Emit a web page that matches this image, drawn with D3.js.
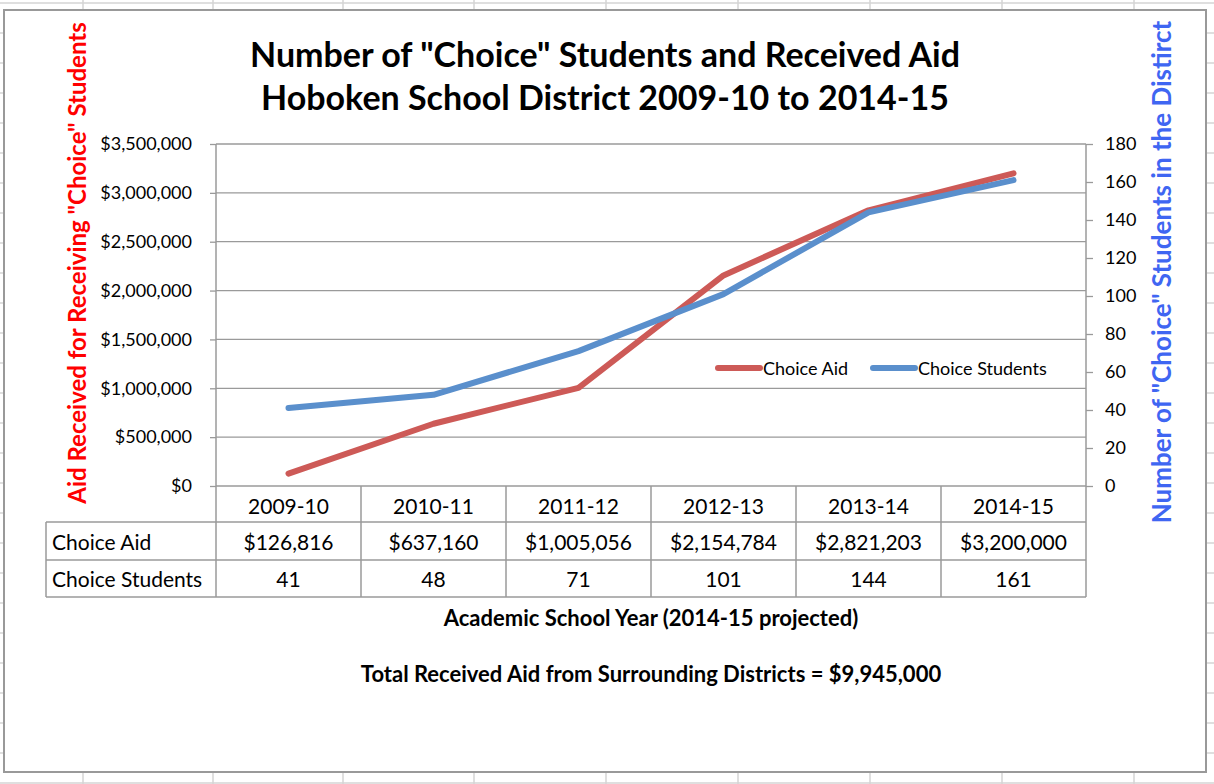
<!DOCTYPE html>
<html>
<head>
<meta charset="utf-8">
<script src="https://cdn.jsdelivr.net/npm/d3@7/dist/d3.min.js"></script>
<style>
  html, body { margin: 0; padding: 0; background: #fff; }
  svg { display: block; }
  text { font-family: Lato, "Open Sans", "DejaVu Sans", sans-serif; }
</style>
</head>
<body>
<svg id="chart" width="1214" height="784"></svg>
<script>
const categories = ["2009-10", "2010-11", "2011-12", "2012-13", "2013-14", "2014-15"];
const choiceAid = [126816, 637160, 1005056, 2154784, 2821203, 3200000];
const choiceStudents = [41, 48, 71, 101, 144, 161];
const aidTicks = [0, 500000, 1000000, 1500000, 2000000, 2500000, 3000000, 3500000];
const studentTicks = [0, 20, 40, 60, 80, 100, 120, 140, 160, 180];
const seriesNames = ["Choice Aid", "Choice Students"];
const titleLines = ['Number of "Choice" Students and Received Aid', 'Hoboken School District 2009-10 to 2014-15'];
const leftTitle = 'Aid Received for Receiving "Choice" Students';
const rightTitle = 'Number of "Choice" Students in the Distirct';
const xTitle = "Academic School Year (2014-15 projected)";
const footNote = "Total Received Aid from Surrounding Districts = $9,945,000";

const W = 1214, H = 784;
const svg = d3.select("#chart");
const RED = "#CD5A57", BLUE = "#5A8FCC", GRID = "#9a9a9a";

// spreadsheet background grid
const sheet = svg.append("g");
const colXs = [83, 213, 343, 474, 606, 738, 870, 1002, 1134];
colXs.forEach(x => sheet.append("line").attr("x1", x).attr("x2", x).attr("y1", 0).attr("y2", H)
  .attr("stroke", "#d4d4d4").attr("stroke-width", 1.5));
d3.range(3, H, 30).forEach(y => sheet.append("line").attr("x1", 0).attr("x2", W).attr("y1", y).attr("y2", y)
  .attr("stroke", "#d4d4d4").attr("stroke-width", 1.5));

// chart frame
svg.append("rect").attr("x", 4).attr("y", 10).attr("width", 1202).attr("height", 762)
  .attr("fill", "#fff").attr("stroke", "#999").attr("stroke-width", 2);

const plot = {left: 216, right: 1086, top: 144, bottom: 486};
const x = d3.scaleBand().domain(categories).range([plot.left, plot.right]);
const yL = d3.scaleLinear().domain([0, 3500000]).range([plot.bottom, plot.top]);
const yR = d3.scaleLinear().domain([0, 180]).range([plot.bottom, plot.top]);

// gridlines
svg.append("g").selectAll("line").data(aidTicks).join("line")
  .attr("x1", plot.left).attr("x2", plot.right)
  .attr("y1", d => yL(d)).attr("y2", d => yL(d))
  .attr("stroke", GRID).attr("stroke-width", 1.3);

// left axis
const gL = svg.append("g").attr("transform", `translate(${plot.left},0)`)
  .call(d3.axisLeft(yL).tickValues(aidTicks).tickSize(6).tickPadding(18)
    .tickFormat(d => "$" + d3.format(",")(d)));
gL.select(".domain").attr("stroke", GRID).attr("stroke-width", 1.5).attr("d", `M0,${plot.top}V${plot.bottom}`);
gL.selectAll(".tick line").attr("stroke", GRID).attr("stroke-width", 1.3);
gL.selectAll(".tick text").attr("font-size", 18).attr("fill", "#000")
  .style("font-family", "Lato, sans-serif");

// right axis
const gR = svg.append("g").attr("transform", `translate(${plot.right},0)`)
  .call(d3.axisRight(yR).tickValues(studentTicks).tickSize(7).tickPadding(12));
gR.select(".domain").attr("stroke", GRID).attr("stroke-width", 1.5).attr("d", `M0,${plot.top}V${plot.bottom}`);
gR.selectAll(".tick line").attr("stroke", GRID).attr("stroke-width", 1.3);
gR.selectAll(".tick text").attr("font-size", 18).attr("fill", "#000")
  .style("font-family", "Lato, sans-serif");

// data table
const rowY = [plot.bottom, 522, 560, 597];
const tableLeft = 46;
const tbl = svg.append("g").attr("stroke", GRID).attr("stroke-width", 1.5);
const bounds = categories.map(c => x(c)).concat([plot.right]);
bounds.forEach(bx => tbl.append("line").attr("x1", bx).attr("x2", bx).attr("y1", rowY[0]).attr("y2", rowY[3]));
tbl.append("line").attr("x1", tableLeft).attr("x2", tableLeft).attr("y1", rowY[1]).attr("y2", rowY[3]);
[rowY[1], rowY[2], rowY[3]].forEach(yy => tbl.append("line").attr("x1", tableLeft).attr("x2", plot.right).attr("y1", yy).attr("y2", yy));

const tcell = (txt, cx, cy, anchor) => svg.append("text").attr("x", cx).attr("y", cy)
  .attr("text-anchor", anchor || "middle").attr("dominant-baseline", "central")
  .attr("font-size", 21).attr("fill", "#000").text(txt);
categories.forEach((c, i) => {
  const cx = x(c) + x.bandwidth() / 2;
  tcell(c, cx, (rowY[0] + rowY[1]) / 2 + 1);
  tcell("$" + d3.format(",")(choiceAid[i]), cx, (rowY[1] + rowY[2]) / 2);
  tcell(String(choiceStudents[i]), cx, (rowY[2] + rowY[3]) / 2);
});
tcell(seriesNames[0], tableLeft + 6, (rowY[1] + rowY[2]) / 2, "start");
tcell(seriesNames[1], tableLeft + 6, (rowY[2] + rowY[3]) / 2, "start");

// lines
const cxOf = i => x(categories[i]) + x.bandwidth() / 2;
const lineAid = d3.line().x((d, i) => cxOf(i)).y(d => yL(d));
const lineStu = d3.line().x((d, i) => cxOf(i)).y(d => yR(d));
svg.append("path").attr("d", lineAid(choiceAid)).attr("fill", "none").attr("stroke", RED)
  .attr("stroke-width", 6).attr("stroke-linecap", "round").attr("stroke-linejoin", "round");
svg.append("path").attr("d", lineStu(choiceStudents)).attr("fill", "none").attr("stroke", BLUE)
  .attr("stroke-width", 6).attr("stroke-linecap", "round").attr("stroke-linejoin", "round");

// legend
const legY = 368;
[[718, RED, seriesNames[0]], [873, BLUE, seriesNames[1]]].forEach(([lx, col, name]) => {
  svg.append("line").attr("x1", lx).attr("x2", lx + 42).attr("y1", legY).attr("y2", legY)
    .attr("stroke", col).attr("stroke-width", 6).attr("stroke-linecap", "round");
  svg.append("text").attr("x", lx + 45).attr("y", legY).attr("dominant-baseline", "central")
    .attr("font-size", 18).attr("fill", "#000").text(name);
});

// titles
titleLines.forEach((t, i) => svg.append("text").attr("x", 605).attr("y", 53 + i * 43)
  .attr("text-anchor", "middle").attr("dominant-baseline", "central")
  .attr("font-size", 34).attr("font-weight", "bold").attr("fill", "#000").text(t));

svg.append("text").attr("transform", "translate(76,263) rotate(-90)")
  .attr("text-anchor", "middle").attr("dominant-baseline", "central")
  .attr("font-size", 24).attr("font-weight", "bold").attr("fill", "#FF0000").text(leftTitle);
svg.append("text").attr("transform", "translate(1161,272) rotate(-90)")
  .attr("text-anchor", "middle").attr("dominant-baseline", "central")
  .attr("font-size", 26).attr("font-weight", "bold").attr("fill", "#3F66F2").text(rightTitle);

svg.append("text").attr("x", 651).attr("y", 617).attr("text-anchor", "middle").attr("dominant-baseline", "central")
  .attr("font-size", 22).attr("font-weight", "bold").attr("fill", "#000").text(xTitle);
svg.append("text").attr("x", 651).attr("y", 673).attr("text-anchor", "middle").attr("dominant-baseline", "central")
  .attr("font-size", 22).attr("font-weight", "bold").attr("fill", "#000").text(footNote);
</script>
</body>
</html>
